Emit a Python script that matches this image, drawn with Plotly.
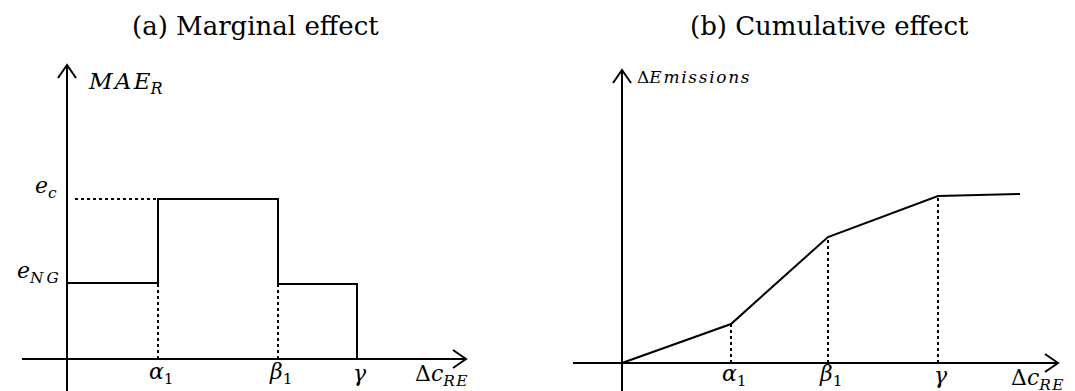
import plotly.graph_objects as go

# ---- data (left panel: marginal effect) ----
step_x = [0.0, 0.91, 0.91, 2.11, 2.11, 2.90, 2.90]
step_y = [0.76, 0.76, 1.60, 1.60, 0.75, 0.75, 0.0]
left_ticks = [0.91, 2.11, 2.90]
left_tick_labels = ["<i>α</i><sub>1</sub>", "<i>β</i><sub>1</sub>", "<i>γ</i>"]
e_levels = [1.60, 0.76]
e_labels = ["<i>e<sub>c</sub></i>", "<i>e<sub>N\u2009G</sub></i>"]

# ---- data (right panel: cumulative effect) ----
cum_x = [0.0, 1.09, 2.06, 3.16, 3.98]
cum_y = [0.0, 0.39, 1.26, 1.67, 1.69]
right_ticks = [1.09, 2.06, 3.16]
right_tick_labels = ["<i>α</i><sub>1</sub>", "<i>β</i><sub>1</sub>", "<i>γ</i>"]

W, H = 1075, 391
OFF = 8          # page body margin
FW, FH = W - OFF, H - OFF
PX = 100.0       # pixels per unit
SERIF = "DejaVu Serif"

fig = go.Figure()
K = dict(color="black", width=2)
D = dict(color="black", width=2, dash="dot")

def axes_lines(xa, ya, x0, x1, y0, y1):
    fig.add_trace(go.Scatter(x=[x0, x1], y=[0, 0], mode="lines", line=K, xaxis=xa, yaxis=ya, hoverinfo="skip"))
    fig.add_trace(go.Scatter(x=[x1 - 0.13, x1, x1 - 0.13], y=[0.09, 0, -0.09], mode="lines", line=K, xaxis=xa, yaxis=ya, hoverinfo="skip"))
    fig.add_trace(go.Scatter(x=[0, 0], y=[y0, y1], mode="lines", line=K, xaxis=xa, yaxis=ya, hoverinfo="skip"))
    fig.add_trace(go.Scatter(x=[-0.09, 0, 0.09], y=[y1 - 0.13, y1, y1 - 0.13], mode="lines", line=K, xaxis=xa, yaxis=ya, hoverinfo="skip"))

# left panel
axes_lines("x", "y", -0.45, 3.99, -0.40, 2.94)
fig.add_trace(go.Scatter(x=step_x, y=step_y, mode="lines", line=K, hoverinfo="skip"))
fig.add_trace(go.Scatter(x=[0.08, step_x[1]], y=[e_levels[0], e_levels[0]], mode="lines", line=D, hoverinfo="skip"))
for xt, yt in [(step_x[1], step_y[1]), (step_x[3], step_y[4])]:
    fig.add_trace(go.Scatter(x=[xt, xt], y=[0, yt], mode="lines", line=D, hoverinfo="skip"))

# right panel
axes_lines("x2", "y2", -0.49, 4.36, -0.40, 2.93)
fig.add_trace(go.Scatter(x=cum_x, y=cum_y, mode="lines", line=K, xaxis="x2", yaxis="y2", hoverinfo="skip"))
for xt, yt in zip(cum_x[1:4], cum_y[1:4]):
    fig.add_trace(go.Scatter(x=[xt, xt], y=[0, yt], mode="lines", xaxis="x2", yaxis="y2", line=D, hoverinfo="skip"))

ann = []
def A(text, x, y, xref, yref, size=20, xanchor="center", yanchor="middle"):
    ann.append(dict(text=text, x=x, y=y, xref=xref, yref=yref, showarrow=False,
                    font=dict(family=SERIF, size=size, color="black"),
                    xanchor=xanchor, yanchor=yanchor))

TS = "\u2009"
HS = "\u200a"
MS = 22
for t, lab in zip(left_ticks, left_tick_labels):
    A(lab, t + 0.03, -0.14, "x", "y", size=MS)
A("Δ<i>c<sub>R" + HS + "E</sub></i>", 3.46, -0.16, "x", "y", size=MS, xanchor="left")
A(e_labels[0], -0.08, e_levels[0] + 0.12, "x", "y", size=MS, xanchor="right")
A(e_labels[1], -0.06, e_levels[1] + 0.11, "x", "y", size=MS, xanchor="right")
A("<i>M" + HS + "A" + HS + "E<sub>R</sub></i>", 0.19, 2.76, "x", "y", size=MS + 1, xanchor="left")

for t, lab in zip(right_ticks, right_tick_labels):
    A(lab, t + 0.03, -0.12, "x2", "y2", size=MS)
A("Δ<i>c<sub>R" + HS + "E</sub></i>", 3.87, -0.16, "x2", "y2", size=MS, xanchor="left")
A("Δ<i>" + HS.join("Emissions") + "</i>", 0.13, 2.86, "x2", "y2", size=17, xanchor="left")

A("(a) Marginal effect", 255, 26, "paper", "paper", size=26)
A("(b) Cumulative effect", 829, 26, "paper", "paper", size=26)
for a in ann[-2:]:
    a["x"] = (a["x"] - OFF) / FW
    a["y"] = 1 - (a["y"] - OFF) / FH

ox1, oy1 = 67 - OFF, 359 - OFF
ox2, oy2 = 622 - OFF, 363 - OFF
fig.update_layout(
    width=FW, height=FH, margin=dict(l=0, r=0, t=0, b=0),
    paper_bgcolor="white", plot_bgcolor="white", showlegend=False,
    annotations=ann,
    xaxis=dict(range=[-ox1 / PX, (FW - ox1) / PX], domain=[0, 1], visible=False, fixedrange=True),
    yaxis=dict(range=[-(FH - oy1) / PX, oy1 / PX], domain=[0, 1], visible=False, fixedrange=True),
    xaxis2=dict(range=[-ox2 / PX, (FW - ox2) / PX], domain=[0, 1], visible=False, overlaying="x", fixedrange=True),
    yaxis2=dict(range=[-(FH - oy2) / PX, oy2 / PX], domain=[0, 1], visible=False, overlaying="y", anchor="x2", fixedrange=True),
)
fig.update_xaxes(showgrid=False, zeroline=False)
fig.update_yaxes(showgrid=False, zeroline=False)
fig.write_html("out.html")
